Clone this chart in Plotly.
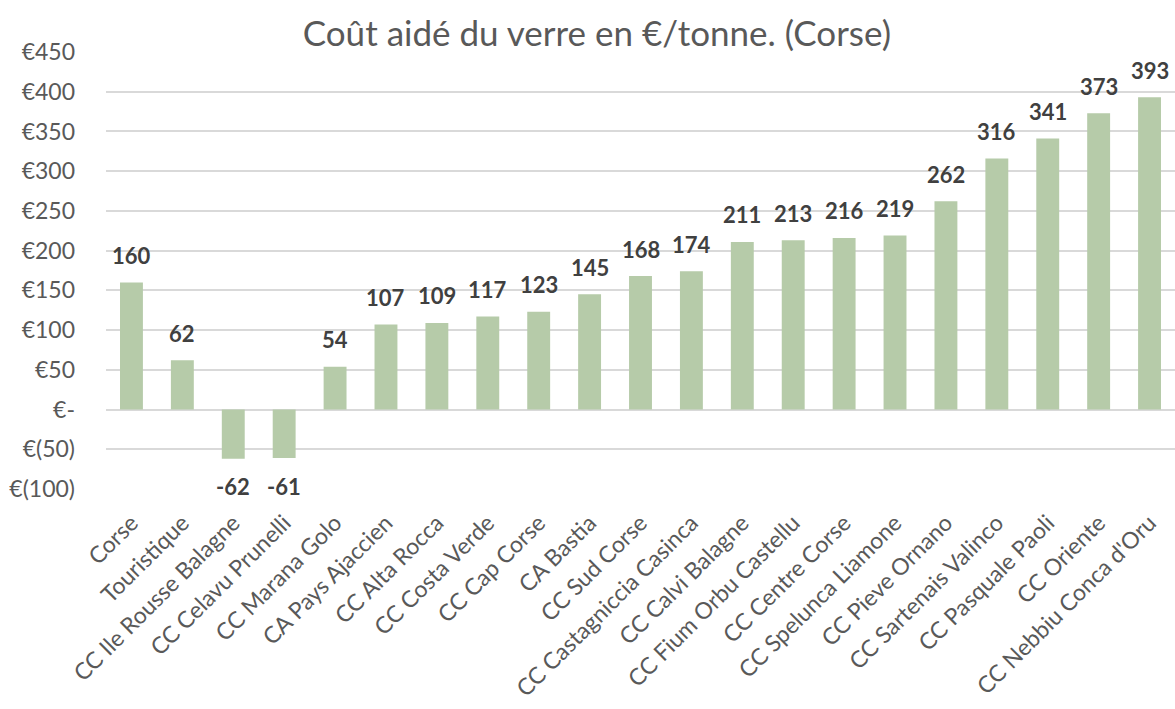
import plotly.graph_objects as go

categories = ["Corse", "Touristique", "CC Ile Rousse Balagne", "CC Celavu Prunelli",
              "CC Marana Golo", "CA Pays Ajaccien", "CC Alta Rocca", "CC Costa Verde",
              "CC Cap Corse", "CA Bastia", "CC Sud Corse", "CC Castagniccia Casinca",
              "CC Calvi Balagne", "CC Fium Orbu Castellu", "CC Centre Corse",
              "CC Spelunca Liamone", "CC Pieve Ornano", "CC Sartenais Valinco",
              "CC Pasquale Paoli", "CC Oriente", "CC Nebbiu Conca d'Oru"]
values = [160, 62, -62, -61, 54, 107, 109, 117, 123, 145, 168, 174, 211, 213, 216,
          219, 262, 316, 341, 373, 393]
tick_vals = [-100, -50, 0, 50, 100, 150, 200, 250, 300, 350, 400, 450]
tick_text = ["€(100)", "€(50)", "€-", "€50", "€100", "€150", "€200", "€250",
             "€300", "€350", "€400", "€450"]
title = "Coût aidé du verre en €/tonne. (Corse)"

FONT = "Lato, 'Noto Sans', sans-serif"

fig = go.Figure()
fig.add_trace(go.Bar(x=categories, y=values, marker_color="#B6CBA9",
                     marker_line_width=0, width=0.45, hoverinfo="x+y"))

for c, v in zip(categories, values):
    fig.add_annotation(x=c, y=v, text=f"<b>{v}</b>", showarrow=False,
                       yshift=27 if v >= 0 else -28,
                       font=dict(family=FONT, size=22, color="#404040"))

fig.update_layout(
    width=1175, height=709,
    margin=dict(l=106, r=0, t=52, b=220),
    paper_bgcolor="white", plot_bgcolor="white",
    showlegend=False, bargap=0.55,
    title=dict(text=title, x=0.508, xanchor="center", y=0.953, yanchor="middle",
               font=dict(family=FONT, size=35, color="#595959")),
    font=dict(family=FONT, color="#595959"),
)
fig.update_xaxes(tickangle=-45, tickfont=dict(size=23, color="#595959"),
                 showgrid=False, showline=False, ticks="", ticklen=0,
                 ticklabelstandoff=15, automargin=False)
fig.update_yaxes(range=[-100, 450], tickvals=tick_vals, ticktext=tick_text,
                 tickfont=dict(size=23, color="#595959"), showgrid=True,
                 gridcolor="#D9D9D9", gridwidth=1.5, zeroline=True,
                 zerolinecolor="#D9D9D9", zerolinewidth=1.5, showline=False,
                 ticks="", ticklabelstandoff=30, automargin=False)

fig.write_html("out.html", config={"displayModeBar": False},
               post_script="document.body.style.margin='0';document.body.style.overflow='hidden';")
